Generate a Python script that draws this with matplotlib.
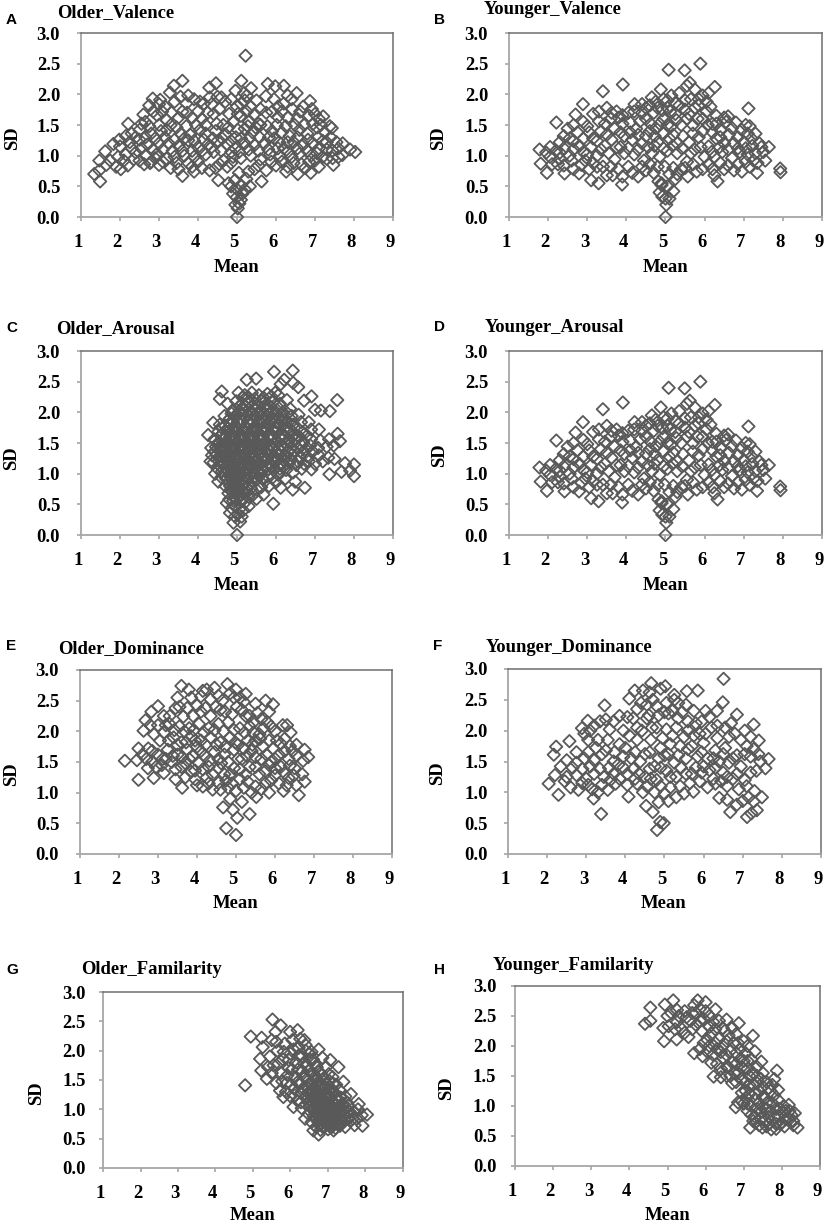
import numpy as np
import matplotlib
matplotlib.use('Agg')
import matplotlib.pyplot as plt
from matplotlib.transforms import ScaledTranslation

W, H = 829, 1224
GRAY = '#595959'

# mean, sd pairs
older_valence = [
    5.22,2.63, 3.60,2.22, 3.38,2.14, 4.46,2.18, 4.29,2.11, 5.11,2.22, 4.96,2.06, 5.18,2.02, 5.36,2.10, 5.79,2.17,
    5.98,2.13, 6.20,2.14, 6.53,2.02, 5.74,1.97, 6.87,1.89, 7.21,1.64, 7.43,1.45, 8.03,1.06, 7.90,1.10, 7.70,1.01,
    7.71,1.20, 7.47,0.85, 6.89,0.72, 6.56,0.70, 6.26,0.74, 5.63,0.58, 5.29,0.74, 4.52,0.60, 3.60,0.67, 3.90,0.74,
    2.77,0.88, 2.02,0.78, 1.49,0.58, 1.34,0.70, 1.47,0.76, 1.47,0.92, 1.62,1.07, 1.83,1.19, 1.98,1.26, 2.21,1.52,
    2.60,1.67, 2.84,1.93, 3.03,1.91, 3.28,2.03,
    5.00,0.00, 5.02,0.14, 5.06,0.22, 4.96,0.20, 4.99,0.32, 5.10,0.28, 4.90,0.38, 5.14,0.38, 5.20,0.45, 4.85,0.50,
    5.00,0.45, 5.10,0.52, 5.24,0.62, 4.95,0.60, 4.78,0.55, 5.05,0.72, 5.33,0.50,
    1.90,0.82, 2.20,0.84, 2.50,0.92, 2.80,0.90, 3.00,0.85, 3.30,0.80, 3.50,0.78, 3.75,0.88, 4.10,0.80, 4.30,0.76,
    4.45,0.80, 4.75,0.82, 5.45,0.78, 5.75,0.76, 6.00,0.84, 6.30,0.82, 6.65,0.86, 6.85,0.90, 7.10,0.82, 7.30,0.95,
    7.60,0.98, 1.75,0.92, 1.95,0.98, 2.15,1.02, 2.40,1.05, 2.65,1.00, 2.95,1.03, 3.20,0.95, 3.40,0.98, 3.65,1.00,
    3.90,0.98, 4.20,1.02, 4.40,1.06, 4.65,0.92, 4.90,0.98, 5.10,0.96, 5.35,1.00, 5.60,0.94, 5.85,1.02, 6.10,1.00,
    6.40,0.98, 6.60,1.03, 6.90,1.00, 7.05,1.04, 7.30,1.10, 7.45,1.08, 2.00,1.15, 2.25,1.22, 2.50,1.26, 2.70,1.18,
    3.00,1.20, 3.25,1.20, 3.50,1.16, 3.75,1.25, 4.00,1.14, 4.25,1.18, 4.50,1.24, 4.75,1.18, 4.95,1.12, 5.20,1.20,
    5.45,1.17, 5.70,1.20, 5.95,1.28, 6.20,1.12, 6.45,1.22, 6.70,1.18, 6.95,1.20, 7.20,1.24, 7.40,1.30, 7.55,1.22,
    2.30,1.36, 2.50,1.42, 2.80,1.36, 3.05,1.40, 3.30,1.50, 3.55,1.36, 3.80,1.34, 4.05,1.42, 4.20,1.36, 4.45,1.40,
    4.70,1.35, 4.97,1.30, 5.20,1.44, 5.40,1.38, 5.60,1.50, 5.90,1.40, 6.15,1.38, 6.35,1.32, 6.60,1.42, 6.80,1.36,
    7.05,1.46, 7.25,1.38, 2.65,1.55, 2.95,1.66, 3.20,1.58, 3.60,1.72, 3.85,1.62, 4.10,1.60, 4.40,1.68, 4.65,1.50,
    4.90,1.55, 5.10,1.65, 5.30,1.55, 5.55,1.52, 5.75,1.70, 6.05,1.63, 6.30,1.62, 6.55,1.60, 6.85,1.65, 7.00,1.68,
    2.75,1.82, 3.15,1.80, 3.40,1.88, 3.70,1.85, 3.90,1.92, 4.15,1.85, 4.35,1.84, 4.50,1.96, 4.70,1.88, 5.00,1.80,
    5.20,1.90, 5.35,1.80, 5.60,1.76, 6.05,1.80, 6.20,1.85, 6.40,1.92, 6.70,1.80,
    # denser fill
    1.65,0.85, 2.10,0.92, 2.35,0.94, 2.62,0.86, 2.90,0.96, 3.10,0.90, 3.45,0.88, 3.85,0.82, 4.00,0.90, 4.55,0.86,
    4.85,0.88, 5.55,0.84, 5.88,0.90, 6.15,0.90, 6.45,0.88, 6.75,0.80, 7.00,0.92, 7.20,0.98, 7.45,0.96, 2.30,1.12,
    2.55,1.12, 2.85,1.10, 3.10,1.10, 3.35,1.08, 3.60,1.08, 3.85,1.08, 4.10,1.08, 4.35,1.14, 4.60,1.08, 4.85,1.06,
    5.05,1.06, 5.30,1.10, 5.55,1.08, 5.80,1.10, 6.05,1.12, 6.30,1.06, 6.55,1.12, 6.80,1.08, 7.10,1.12, 7.60,1.12,
    2.15,1.32, 2.40,1.30, 2.65,1.30, 2.90,1.28, 3.15,1.30, 3.40,1.26, 3.65,1.28, 3.90,1.24, 4.15,1.26, 4.38,1.28,
    4.62,1.28, 4.85,1.24, 5.10,1.28, 5.32,1.28, 5.58,1.30, 5.82,1.30, 6.08,1.22, 6.30,1.22, 6.55,1.30, 6.82,1.26,
    7.08,1.30, 7.30,1.22, 2.55,1.52, 2.75,1.48, 3.00,1.50, 3.20,1.42, 3.45,1.46, 3.70,1.48, 3.95,1.50, 4.20,1.50,
    4.48,1.52, 4.78,1.46, 5.02,1.42, 5.28,1.48, 5.48,1.46, 5.78,1.48, 6.02,1.50, 6.25,1.48, 6.48,1.50, 6.72,1.50,
    6.95,1.52, 7.15,1.50, 7.38,1.48, 2.85,1.72, 3.08,1.72, 3.32,1.70, 3.50,1.62, 3.72,1.70, 4.00,1.72, 4.25,1.70,
    4.55,1.76, 4.80,1.68, 5.02,1.68, 5.25,1.72, 5.45,1.68, 5.90,1.72, 6.15,1.72, 6.42,1.76, 6.62,1.72, 6.92,1.76,
    7.10,1.60, 3.00,1.84, 3.55,1.96, 3.75,1.98, 4.05,1.88, 4.30,1.95, 4.60,1.95, 4.85,1.92, 5.10,1.85, 5.25,1.98,
    5.50,1.90, 5.95,1.92, 6.30,1.98,
]

younger_valence = [
    1.78,1.10, 1.81,0.87, 1.97,0.72, 2.21,1.54, 2.89,1.84, 2.70,1.67, 3.40,2.05, 3.91,2.16, 5.08,2.40, 5.49,2.39,
    5.89,2.50, 6.26,2.12, 4.88,2.08, 5.62,2.19, 7.12,1.77, 6.60,1.64, 7.64,1.14, 7.55,0.92, 7.93,0.79, 7.94,0.73,
    7.34,0.72, 6.33,0.58, 5.57,0.66, 3.89,0.53, 3.29,0.55, 3.10,0.60, 4.90,0.55, 2.42,0.71, 2.79,0.71, 4.21,1.84,
    5.00,0.00, 5.02,0.20, 5.00,0.30, 4.92,0.33, 5.10,0.30, 4.85,0.40, 5.20,0.42, 4.90,0.52, 5.05,0.50, 5.25,0.62,
    4.82,0.58, 5.10,0.70, 4.98,0.82,
    2.05,0.98, 1.95,1.05, 2.25,0.86, 2.40,0.84, 2.60,0.92, 2.85,0.85, 3.05,0.78, 3.25,0.82, 3.50,0.68, 3.65,0.68,
    3.80,0.78, 4.05,0.82, 4.30,0.66, 4.50,0.76, 4.70,0.72, 5.20,0.80, 5.40,0.78, 5.80,0.74, 6.10,0.86, 6.25,0.68,
    6.50,0.78, 6.75,0.76, 6.95,0.74, 7.15,0.82, 7.35,0.88, 2.20,1.08, 2.40,1.12, 2.55,1.00, 2.80,1.16, 3.00,1.02,
    3.25,1.00, 3.45,1.16, 3.70,0.94, 3.95,1.04, 4.20,1.02, 4.45,0.92, 4.65,1.04, 4.85,0.98, 5.05,1.08, 5.30,1.04,
    5.55,0.90, 5.75,1.10, 6.00,0.98, 6.25,0.98, 6.45,1.06, 6.70,0.96, 6.90,1.06, 7.10,1.02, 7.30,1.04, 7.50,1.06,
    2.30,1.22, 2.55,1.28, 2.75,1.38, 3.05,1.38, 3.25,1.24, 3.50,1.34, 3.75,1.14, 3.95,1.32, 4.15,1.26, 4.40,1.20,
    4.60,1.40, 4.80,1.22, 5.10,1.28, 5.30,1.20, 5.60,1.22, 5.85,1.30, 6.10,1.15, 6.30,1.28, 6.50,1.20, 6.75,1.20,
    7.00,1.22, 7.20,1.28, 7.40,1.20, 2.50,1.44, 2.90,1.55, 3.15,1.68, 3.45,1.52, 3.70,1.44, 3.90,1.52, 4.25,1.44,
    4.50,1.60, 4.75,1.45, 4.95,1.60, 5.15,1.48, 5.40,1.50, 5.70,1.50, 5.95,1.60, 6.20,1.52, 6.40,1.42, 6.70,1.45,
    6.95,1.42, 7.15,1.48, 7.30,1.36, 3.50,1.78, 3.75,1.72, 4.05,1.70, 4.40,1.70, 4.60,1.82, 4.80,1.78, 5.05,1.78,
    5.25,1.68, 5.50,1.75, 5.75,1.78, 6.05,1.72, 6.30,1.65, 6.50,1.62, 4.65,1.95, 4.95,1.92, 5.15,1.98, 5.35,2.02,
    5.55,2.14, 5.75,2.08, 5.50,1.90, 5.85,1.92, 6.10,2.02, 6.05,1.88,
    # denser fill
    2.10,0.86, 2.30,0.95, 2.65,0.78, 2.95,0.92, 3.15,0.88, 3.40,0.82, 3.60,0.82, 3.90,0.66, 4.15,0.72, 4.40,0.82,
    4.60,0.86, 4.80,0.82, 5.30,0.70, 5.50,0.80, 5.70,0.86, 5.95,0.78, 6.20,0.78, 6.40,0.88, 6.60,0.84, 6.85,0.86,
    7.05,0.90, 7.25,0.92, 2.05,1.14, 2.30,1.05, 2.65,1.10, 2.90,1.06, 3.10,1.14, 3.35,1.10, 3.55,1.04, 3.85,1.14,
    4.05,1.12, 4.30,1.10, 4.55,1.14, 4.72,1.16, 4.95,1.12, 5.18,1.16, 5.42,1.12, 5.65,1.04, 5.90,1.14, 6.18,1.06,
    6.38,1.14, 6.60,1.10, 6.85,1.12, 7.05,1.12, 7.22,1.16, 7.45,1.14, 2.40,1.32, 2.65,1.24, 2.90,1.28, 3.15,1.28,
    3.35,1.40, 3.62,1.26, 3.85,1.38, 4.10,1.38, 4.30,1.34, 4.50,1.32, 4.72,1.32, 4.95,1.36, 5.20,1.34, 5.45,1.32,
    5.70,1.36, 5.95,1.40, 6.20,1.38, 6.40,1.30, 6.62,1.34, 6.85,1.30, 7.10,1.36, 2.65,1.50, 3.00,1.48, 3.30,1.56,
    3.60,1.60, 3.80,1.62, 4.10,1.54, 4.35,1.56, 4.62,1.52, 4.85,1.52, 5.05,1.50, 5.28,1.58, 5.55,1.60, 5.82,1.60,
    6.08,1.50, 6.30,1.52, 6.55,1.55, 6.80,1.54, 7.05,1.50, 3.30,1.72, 3.62,1.70, 3.90,1.66, 4.20,1.72, 4.50,1.78,
    4.70,1.70, 4.92,1.74, 5.12,1.72, 5.35,1.82, 5.60,1.68, 5.85,1.82, 6.15,1.80, 4.40,1.84, 4.75,1.88, 5.05,1.90,
    5.25,1.86, 5.65,1.92, 5.95,1.98,
]

older_arousal = [
    4.26,1.63, 4.39,1.83, 4.61,2.34, 4.56,2.22, 5.25,2.53, 5.49,2.55, 5.95,2.66, 6.43,2.68, 6.21,2.53, 6.44,2.48,
    6.57,2.41, 6.91,2.26, 6.72,2.19, 7.57,2.20, 7.38,2.02, 7.15,2.03, 7.00,2.04, 7.58,1.65, 7.64,1.53, 7.50,1.24,
    7.77,1.17, 8.00,1.15, 7.90,1.05, 8.00,0.96, 7.68,1.03, 7.37,0.99, 6.91,1.07, 6.74,0.77, 6.43,0.74, 6.49,0.87,
    6.12,0.77, 5.93,0.51, 5.68,0.66, 5.50,0.59, 5.30,0.47, 5.00,0.00, 4.91,0.20, 5.08,0.22, 4.82,0.36, 4.74,0.52,
    4.52,0.87, 4.44,1.00, 4.32,1.20,
    4.95,0.30, 5.02,0.34, 5.12,0.30, 4.86,0.44, 4.96,0.46, 5.06,0.42, 5.16,0.40, 4.80,0.58, 4.90,0.56, 5.00,0.58,
    5.10,0.54, 5.22,0.54, 4.78,0.68, 4.88,0.70, 4.98,0.68, 5.08,0.66, 5.18,0.68, 5.30,0.62, 5.42,0.66, 4.70,0.80,
    4.82,0.80, 4.92,0.82, 5.02,0.78, 5.12,0.80, 5.24,0.78, 5.36,0.76, 5.50,0.74, 5.62,0.78, 5.82,0.80, 6.00,0.86,
    4.60,0.94, 4.72,0.92, 4.84,0.94, 4.94,0.90, 5.04,0.94, 5.14,0.90, 5.26,0.92, 5.38,0.88, 5.50,0.90, 5.64,0.92,
    5.78,0.96, 5.92,0.94, 6.06,0.98, 6.24,0.92, 4.50,1.08, 4.62,1.04, 4.74,1.06, 4.86,1.04, 4.96,1.06, 5.06,1.02,
    5.18,1.04, 5.30,1.06, 5.42,1.02, 5.54,1.04, 5.66,1.06, 5.80,1.08, 5.94,1.06, 6.10,1.08, 6.26,1.06, 6.44,1.02,
    6.66,1.08, 4.40,1.18, 4.54,1.20, 4.66,1.16, 4.78,1.18, 4.90,1.16, 5.00,1.20, 5.12,1.16, 5.24,1.18, 5.36,1.16,
    5.48,1.20, 5.60,1.16, 5.72,1.20, 5.86,1.16, 6.00,1.20, 6.16,1.16, 6.34,1.18, 6.52,1.14, 6.72,1.16, 7.00,1.16,
    7.20,1.20, 4.36,1.30, 4.48,1.32, 4.60,1.28, 4.72,1.32, 4.84,1.28, 4.96,1.30, 5.08,1.28, 5.20,1.32, 5.32,1.28,
    5.44,1.30, 5.56,1.32, 5.68,1.28, 5.80,1.32, 5.94,1.28, 6.08,1.30, 6.24,1.28, 6.40,1.30, 6.60,1.26, 6.80,1.28,
    7.10,1.30, 7.34,1.26, 4.34,1.42, 4.46,1.44, 4.58,1.40, 4.70,1.44, 4.82,1.40, 4.94,1.44, 5.06,1.40, 5.18,1.44,
    5.30,1.40, 5.42,1.44, 5.54,1.40, 5.66,1.44, 5.78,1.40, 5.92,1.44, 6.06,1.40, 6.20,1.44, 6.38,1.40, 6.56,1.42,
    6.76,1.40, 7.08,1.42, 7.30,1.44, 7.48,1.46, 4.42,1.56, 4.54,1.52, 4.66,1.56, 4.78,1.52, 4.90,1.56, 5.02,1.52,
    5.14,1.56, 5.26,1.52, 5.38,1.56, 5.50,1.52, 5.62,1.56, 5.74,1.52, 5.88,1.56, 6.02,1.52, 6.16,1.56, 6.32,1.52,
    6.50,1.56, 6.70,1.52, 6.90,1.56, 7.14,1.54, 7.36,1.56, 4.52,1.68, 4.64,1.66, 4.76,1.68, 4.88,1.64, 5.00,1.68,
    5.12,1.64, 5.24,1.68, 5.36,1.64, 5.48,1.68, 5.60,1.64, 5.72,1.68, 5.86,1.64, 6.00,1.68, 6.14,1.64, 6.30,1.68,
    6.48,1.64, 6.68,1.68, 6.90,1.72, 7.10,1.72, 4.56,1.80, 4.70,1.78, 4.84,1.80, 4.96,1.76, 5.08,1.80, 5.20,1.76,
    5.32,1.80, 5.44,1.76, 5.56,1.80, 5.68,1.76, 5.82,1.80, 5.96,1.76, 6.10,1.80, 6.26,1.76, 6.44,1.80, 6.64,1.84,
    6.84,1.84, 4.68,1.94, 4.82,1.90, 4.96,1.92, 5.08,1.88, 5.22,1.92, 5.36,1.88, 5.50,1.92, 5.64,1.88, 5.78,1.92,
    5.92,1.88, 6.06,1.92, 6.22,1.88, 6.40,1.94, 6.58,1.96, 4.90,2.04, 5.04,2.00, 5.18,2.04, 5.32,2.00, 5.46,2.04,
    5.60,2.00, 5.74,2.04, 5.88,2.00, 6.02,2.04, 6.18,2.00, 6.36,2.06, 4.76,2.14, 4.98,2.18, 5.14,2.14, 5.30,2.18,
    5.46,2.14, 5.62,2.18, 5.78,2.14, 5.94,2.18, 6.10,2.14, 6.28,2.20, 5.04,2.32, 5.20,2.28, 5.38,2.32, 5.56,2.28,
    5.78,2.30, 5.98,2.32, 6.12,2.46,
    # denser fill, offset from the rows above
    4.94,0.62, 5.04,0.62, 5.14,0.60, 4.84,0.74, 4.94,0.74, 5.04,0.72, 5.14,0.72, 5.26,0.70, 4.78,0.86, 4.88,0.86,
    4.98,0.84, 5.08,0.86, 5.20,0.84, 5.32,0.82, 4.68,0.98, 4.80,0.98, 4.90,0.98, 5.00,0.98, 5.10,0.96, 5.22,0.98,
    5.34,0.96, 5.46,0.96, 5.60,0.98, 5.72,0.88, 4.58,1.12, 4.70,1.10, 4.82,1.10, 4.92,1.10, 5.02,1.12, 5.14,1.10,
    5.26,1.10, 5.38,1.10, 5.50,1.10, 5.62,1.10, 5.76,1.12, 5.90,1.12, 6.04,1.12, 6.20,1.12, 4.48,1.24, 4.60,1.22,
    4.72,1.24, 4.84,1.22, 4.94,1.24, 5.06,1.22, 5.18,1.24, 5.30,1.22, 5.42,1.24, 5.54,1.22, 5.66,1.24, 5.78,1.24,
    5.90,1.22, 6.04,1.24, 6.20,1.22, 6.38,1.24, 6.56,1.20, 6.84,1.20, 4.42,1.36, 4.54,1.38, 4.66,1.36, 4.78,1.36,
    4.90,1.36, 5.02,1.34, 5.14,1.36, 5.26,1.36, 5.38,1.36, 5.50,1.36, 5.62,1.36, 5.74,1.36, 5.86,1.36, 6.00,1.36,
    6.14,1.36, 6.30,1.36, 6.48,1.36, 6.68,1.34, 6.94,1.36, 4.50,1.48, 4.62,1.46, 4.74,1.48, 4.86,1.46, 4.98,1.48,
    5.10,1.46, 5.22,1.48, 5.34,1.46, 5.46,1.48, 5.58,1.46, 5.70,1.48, 5.84,1.46, 5.98,1.48, 6.12,1.46, 6.28,1.48,
    6.46,1.48, 6.66,1.46, 6.88,1.46, 4.58,1.62, 4.70,1.60, 4.82,1.60, 4.94,1.60, 5.06,1.60, 5.18,1.60, 5.30,1.60,
    5.42,1.60, 5.54,1.60, 5.66,1.60, 5.80,1.60, 5.94,1.60, 6.08,1.60, 6.24,1.60, 6.40,1.60, 6.60,1.60, 6.80,1.62,
    4.62,1.74, 4.76,1.74, 4.90,1.70, 5.02,1.74, 5.14,1.72, 5.26,1.74, 5.38,1.72, 5.50,1.74, 5.62,1.72, 5.76,1.74,
    5.90,1.72, 6.04,1.74, 6.20,1.72, 6.38,1.72, 6.56,1.74, 4.76,1.86, 4.90,1.84, 5.02,1.84, 5.14,1.86, 5.28,1.84,
    5.42,1.84, 5.56,1.86, 5.70,1.84, 5.84,1.86, 6.00,1.84, 6.14,1.86, 6.32,1.84, 4.86,1.98, 5.00,1.96, 5.14,1.98,
    5.28,1.96, 5.42,1.98, 5.56,1.96, 5.70,1.98, 5.84,1.96, 5.98,1.98, 6.14,1.96, 6.30,1.98, 5.06,2.10, 5.22,2.10,
    5.38,2.10, 5.54,2.08, 5.70,2.10, 5.86,2.08, 6.02,2.10, 5.14,2.24, 5.30,2.24, 5.46,2.22, 5.68,2.24, 5.88,2.26,
    6.06,2.28,
]

# the Younger_Arousal panel shows the same cloud as Younger_Valence
younger_arousal = list(younger_valence)

older_dominance = [
    2.15,1.52, 2.50,1.21, 2.46,1.53, 2.63,2.01, 2.68,2.18, 2.83,2.32, 3.00,2.41, 3.60,2.74, 3.79,2.68, 4.15,2.66,
    4.45,2.71, 4.78,2.77, 5.25,2.61, 5.76,2.50, 5.95,2.44, 6.31,2.10, 6.55,1.78, 6.76,1.70, 6.85,1.58, 6.76,1.18,
    6.61,0.96, 6.22,1.03, 5.85,1.00, 5.52,0.93, 5.35,0.65, 5.03,0.59, 5.00,0.31, 4.75,0.42, 4.67,0.76, 4.92,0.72,
    3.62,1.08, 3.15,1.32, 2.89,1.24, 2.74,1.40,
    2.60,1.62, 2.85,1.50, 3.10,1.45, 3.35,1.50, 3.45,1.22, 3.85,1.34, 4.00,1.12, 4.25,1.25, 4.40,1.05, 4.55,1.16,
    4.80,1.08, 5.00,1.03, 5.20,1.08, 5.40,1.00, 5.65,1.06, 5.90,1.20, 6.10,1.15, 6.35,1.24, 6.55,1.12, 4.85,0.90,
    5.15,0.85, 4.70,1.30, 4.95,1.40, 5.25,1.30, 5.50,1.42, 5.75,1.35, 6.00,1.40, 6.25,1.32, 6.50,1.40, 6.70,1.30,
    3.60,1.42, 3.80,1.55, 4.05,1.48, 4.30,1.42, 4.55,1.40, 2.75,1.72, 3.00,1.62, 3.25,1.70, 3.50,1.62, 3.75,1.70,
    4.00,1.75, 4.20,1.60, 4.45,1.66, 4.70,1.62, 4.95,1.70, 5.15,1.55, 5.40,1.68, 5.65,1.55, 5.90,1.50, 6.10,1.62,
    6.35,1.55, 6.55,1.60, 6.72,1.52, 2.90,1.95, 3.15,1.98, 3.40,1.90, 3.60,1.82, 3.85,1.92, 4.10,1.85, 4.35,1.90,
    4.60,1.82, 4.85,1.90, 5.05,1.78, 5.30,1.85, 5.50,1.85, 5.70,1.75, 5.95,1.72, 6.15,1.80, 6.38,1.76, 3.00,2.10,
    3.30,2.25, 3.55,2.08, 3.80,2.05, 4.05,2.12, 4.30,2.05, 4.55,2.12, 4.80,2.15, 5.10,2.05, 5.35,2.08, 5.60,1.95,
    5.80,2.15, 6.00,2.00, 6.20,2.10, 6.40,1.98, 3.15,2.25, 3.45,2.38, 3.65,2.24, 3.90,2.25, 4.10,2.32, 4.35,2.25,
    4.60,2.35, 4.90,2.28, 5.15,2.35, 5.35,2.25, 5.55,2.30, 5.85,2.32, 3.50,2.55, 3.85,2.55, 4.10,2.57, 4.35,2.52,
    4.65,2.50, 4.95,2.55, 5.00,2.68, 5.20,2.48, 5.50,2.45,
    # denser fill
    2.50,1.72, 2.70,1.55, 2.95,1.42, 3.20,1.55, 3.45,1.38, 3.70,1.25, 3.95,1.22, 4.15,1.10, 4.30,1.15, 4.60,1.05,
    4.75,1.20, 4.90,1.15, 5.10,1.22, 5.30,1.18, 5.50,1.10, 5.75,1.15, 6.00,1.28, 6.30,1.12, 6.48,1.28, 3.70,1.48,
    3.95,1.36, 4.15,1.38, 4.40,1.30, 4.62,1.48, 4.85,1.30, 5.10,1.38, 5.35,1.42, 5.60,1.30, 5.85,1.45, 6.15,1.42,
    6.38,1.44, 2.85,1.68, 3.12,1.55, 3.38,1.60, 3.62,1.58, 3.88,1.60, 4.10,1.68, 4.32,1.52, 4.55,1.55, 4.80,1.50,
    5.05,1.55, 5.28,1.60, 5.50,1.58, 5.78,1.62, 6.00,1.55, 6.25,1.68, 6.45,1.68, 3.05,1.85, 3.28,1.85, 3.50,1.78,
    3.72,1.82, 3.95,1.85, 4.22,1.78, 4.50,1.78, 4.72,1.75, 4.98,1.82, 5.20,1.72, 5.42,1.78, 5.62,1.88, 5.85,1.85,
    6.05,1.85, 6.25,1.88, 2.80,2.10, 3.20,2.10, 3.42,2.02, 3.68,2.00, 3.92,2.02, 4.18,1.98, 4.45,2.02, 4.68,2.00,
    4.95,2.02, 5.22,1.98, 5.45,1.98, 5.70,2.05, 5.90,2.08, 3.55,2.40, 3.75,2.38, 4.00,2.42, 4.22,2.38, 4.48,2.40,
    4.72,2.32, 5.02,2.40, 5.25,2.25, 5.45,2.15, 5.65,2.20, 3.30,2.12, 4.25,2.68, 4.55,2.58, 4.85,2.62, 5.10,2.55,
]

younger_dominance = [
    2.04,1.14, 2.17,1.61, 2.23,1.74, 2.57,1.83, 2.29,0.96, 2.89,2.04, 3.04,2.16, 3.47,2.41, 3.38,0.65, 3.19,0.90,
    4.24,2.65, 4.66,2.77, 5.02,2.72, 5.57,2.64, 5.85,2.65, 6.51,2.84, 6.49,2.46, 6.34,2.32, 6.85,2.26, 7.28,2.10,
    7.41,1.84, 7.66,1.54, 7.58,1.39, 7.49,0.92, 7.36,0.71, 7.22,0.66, 7.11,0.60, 6.68,0.68, 6.40,0.91, 5.74,1.01,
    4.81,0.39, 4.89,0.52, 4.98,0.50, 4.70,0.68, 4.53,0.78, 4.08,0.93,
    2.20,1.28, 2.35,1.42, 2.50,1.52, 2.45,1.18, 2.60,1.08, 2.80,1.04, 3.05,1.12, 3.30,1.00, 3.55,1.04, 3.75,1.14,
    4.30,1.14, 4.45,1.00, 4.85,0.84, 4.75,1.00, 5.00,0.98, 5.10,0.86, 5.30,0.92, 5.50,0.98, 5.90,1.18, 6.10,1.08,
    6.30,1.14, 6.60,0.88, 6.85,0.80, 7.00,0.86, 7.15,0.92, 7.30,1.02, 2.75,1.28, 3.00,1.22, 3.20,1.30, 3.45,1.25,
    3.70,1.30, 3.95,1.40, 4.20,1.38, 4.50,1.25, 4.80,1.20, 5.05,1.35, 5.30,1.25, 5.55,1.30, 5.80,1.40, 6.15,1.36,
    6.50,1.32, 6.75,1.22, 7.05,1.20, 7.35,1.35, 2.75,1.48, 2.95,1.55, 3.20,1.52, 3.40,1.62, 3.70,1.50, 3.95,1.58,
    4.25,1.65, 4.50,1.62, 4.75,1.42, 5.00,1.60, 5.25,1.48, 5.55,1.55, 5.85,1.58, 6.10,1.55, 6.40,1.50, 6.65,1.48,
    6.95,1.42, 7.20,1.58, 7.40,1.62, 2.75,1.65, 3.05,1.85, 3.25,1.72, 3.55,1.85, 3.85,1.78, 4.10,1.92, 4.30,1.85,
    4.65,1.85, 4.90,1.72, 5.15,1.78, 5.40,1.75, 5.70,1.75, 6.00,1.80, 6.30,1.68, 6.55,1.72, 6.85,1.60, 7.10,1.75,
    3.10,2.00, 3.35,2.15, 3.60,2.02, 3.85,2.24, 4.05,2.22, 4.30,2.05, 4.55,2.20, 4.80,2.05, 5.05,2.02, 5.30,2.05,
    5.60,2.00, 5.90,1.95, 6.20,2.05, 6.55,2.05, 6.80,1.95, 7.05,2.00, 4.10,2.52, 4.40,2.45, 4.60,2.25, 4.70,2.50,
    4.85,2.25, 5.05,2.45, 5.25,2.50, 5.10,2.28, 5.35,2.20, 5.55,2.42, 5.75,2.32, 5.80,2.12, 6.05,2.32, 4.90,2.68,
    5.25,2.58,
    # denser fill
    2.50,1.25, 2.65,1.40, 2.90,1.15, 3.15,1.05, 3.40,1.12, 3.62,1.20, 3.85,1.22, 4.05,1.12, 4.25,1.22, 4.55,1.10,
    4.65,1.22, 4.90,1.10, 5.15,1.08, 5.40,1.10, 5.65,1.15, 5.95,1.32, 6.25,1.22, 6.45,1.18, 6.60,1.10, 6.90,1.05,
    7.10,1.10, 7.28,0.85, 2.90,1.38, 3.10,1.42, 3.35,1.38, 3.58,1.40, 3.82,1.45, 4.05,1.30, 4.35,1.30, 4.62,1.38,
    4.90,1.40, 5.15,1.25, 5.42,1.40, 5.70,1.30, 6.00,1.42, 6.30,1.40, 6.60,1.25, 6.85,1.30, 7.20,1.32, 7.45,1.50,
    3.05,1.65, 3.30,1.85, 3.50,1.68, 3.72,1.65, 4.00,1.72, 4.15,1.55, 4.38,1.50, 4.62,1.65, 4.85,1.55, 5.10,1.62,
    5.35,1.60, 5.60,1.70, 5.95,1.65, 6.25,1.55, 6.50,1.62, 6.75,1.55, 7.05,1.62, 7.28,1.70, 2.95,1.95, 3.20,2.08,
    3.50,2.18, 3.70,2.15, 3.95,2.00, 4.20,2.20, 4.42,2.00, 4.68,2.05, 4.95,1.88, 5.20,1.92, 5.50,1.90, 5.75,1.92,
    6.05,1.95, 6.35,1.88, 6.65,1.90, 6.95,1.85, 7.20,1.90, 4.30,2.35, 4.55,2.42, 4.45,2.65, 4.62,2.62, 4.80,2.40,
    5.00,2.30, 5.20,2.32, 5.45,2.30, 5.60,2.15, 5.95,2.15, 6.15,2.22, 6.35,2.08, 6.70,2.12, 5.35,2.45,
]

older_familiarity = [
    4.79,1.41, 4.94,2.24, 5.52,2.53, 5.74,2.43, 5.23,2.22, 5.26,2.06, 5.19,1.86, 5.22,1.66, 5.37,1.52, 5.60,2.32,
    6.19,2.35, 5.99,2.32, 6.37,2.18, 6.75,2.02, 7.06,1.84, 7.28,1.72, 7.41,1.47, 7.61,1.26, 7.82,1.09, 8.04,0.91,
    7.92,0.72, 7.71,0.73, 7.46,0.70, 7.15,0.64, 6.75,0.57, 6.61,0.64, 6.39,0.84, 6.08,1.04, 5.81,1.21,
    5.45,1.90, 5.55,1.75, 5.65,2.00, 5.50,1.62, 5.62,1.45, 5.75,1.62, 5.80,1.85, 5.85,2.12, 5.72,1.32, 5.90,1.45,
    5.95,1.70, 6.00,1.95, 6.05,2.18, 6.00,1.22, 6.10,1.35, 6.12,1.55, 6.15,1.80, 6.22,2.05, 6.18,1.15, 6.28,1.28,
    6.25,1.45, 6.32,1.65, 6.30,1.90, 6.40,2.10, 6.30,1.02, 6.42,1.08, 6.40,1.20, 6.42,1.38, 6.40,1.55, 6.45,1.75,
    6.50,1.95, 6.48,0.92, 6.52,1.04, 6.52,1.15, 6.54,1.28, 6.52,1.45, 6.56,1.62, 6.60,1.85, 6.56,0.78, 6.62,0.88,
    6.62,1.00, 6.62,1.10, 6.64,1.22, 6.64,1.35, 6.66,1.52, 6.70,1.72, 6.68,0.70, 6.72,0.80, 6.72,0.92, 6.72,1.02,
    6.74,1.14, 6.74,1.28, 6.76,1.42, 6.80,1.62, 6.85,1.88, 6.80,0.65, 6.82,0.76, 6.82,0.86, 6.82,0.96, 6.84,1.08,
    6.84,1.20, 6.86,1.34, 6.90,1.52, 6.95,1.72, 6.90,0.70, 6.92,0.80, 6.92,0.90, 6.92,1.00, 6.94,1.12, 6.94,1.26,
    6.98,1.42, 7.02,1.60, 7.00,0.66, 7.02,0.76, 7.02,0.86, 7.02,0.96, 7.04,1.06, 7.06,1.20, 7.08,1.36, 7.12,1.55,
    7.10,0.70, 7.12,0.80, 7.12,0.90, 7.14,1.00, 7.16,1.12, 7.18,1.28, 7.22,1.42, 7.20,0.68, 7.22,0.78, 7.24,0.88,
    7.26,1.00, 7.28,1.14, 7.32,1.32, 7.32,0.72, 7.34,0.84, 7.38,0.96, 7.40,1.10, 7.46,1.22, 7.44,0.82, 7.50,0.94,
    7.55,1.06, 7.60,0.80, 7.68,0.96, 7.75,0.84, 7.90,0.90, 6.58,1.32, 6.68,1.42, 6.48,1.35, 6.58,1.12, 6.78,1.06,
    6.88,1.14, 6.98,0.92, 7.08,0.98, 6.88,0.94, 6.78,0.82, 6.98,1.04, 6.70,1.24,
    # denser fill
    5.40,1.72, 5.50,2.18, 5.62,2.15, 5.68,1.78, 5.78,1.48, 5.82,1.98, 5.88,1.30, 5.92,1.58, 5.96,1.84, 6.02,1.42,
    6.04,1.68, 6.08,2.02, 6.12,1.24, 6.18,1.46, 6.20,1.68, 6.22,1.92, 6.26,2.20, 6.28,1.12, 6.34,1.36, 6.36,1.56,
    6.36,1.78, 6.40,2.00, 6.46,1.28, 6.46,1.48, 6.48,1.66, 6.52,1.85, 6.56,1.98, 6.58,1.02, 6.58,1.22, 6.60,1.42,
    6.62,1.60, 6.64,1.78, 6.66,0.94, 6.68,1.06, 6.68,1.18, 6.70,1.32, 6.70,1.52, 6.74,1.65, 6.76,0.74, 6.78,0.88,
    6.78,0.98, 6.80,1.12, 6.80,1.26, 6.82,1.42, 6.84,1.58, 6.86,0.70, 6.88,0.82, 6.88,1.04, 6.90,1.22, 6.92,1.38,
    6.96,0.74, 6.96,0.86, 6.96,0.98, 6.98,1.10, 7.00,1.26, 7.04,1.48, 7.06,0.72, 7.06,0.82, 7.08,0.92, 7.08,1.04,
    7.10,1.14, 7.12,1.30, 7.14,1.44, 7.16,0.74, 7.18,0.84, 7.18,0.96, 7.20,1.06, 7.22,1.20, 7.26,0.74, 7.28,0.84,
    7.30,0.94, 7.32,1.06, 7.34,1.20, 7.38,0.78, 7.42,0.90, 7.46,1.02, 7.50,1.12, 7.52,0.84, 7.58,0.96, 7.66,0.84,
    7.72,0.94, 7.80,1.00, 7.00,1.16, 6.90,1.06, 6.76,1.20, 6.86,1.00, 6.66,0.86, 6.98,0.80, 7.14,0.86, 6.84,0.92,
]

younger_familiarity = [
    4.55,2.64, 4.41,2.37, 4.55,2.42, 4.93,2.69, 5.15,2.76, 4.91,2.08, 4.89,2.30, 5.03,2.33, 5.24,2.11, 5.79,2.76,
    6.00,2.73, 6.26,2.61, 6.55,2.44, 6.87,2.38, 7.24,2.17, 7.29,1.91, 7.46,1.74, 7.87,1.59, 7.90,1.27, 8.18,1.02,
    8.34,0.88, 8.41,0.64, 8.07,0.66, 7.72,0.61, 7.49,0.64, 7.17,0.64, 6.79,0.98, 6.21,1.49, 5.92,1.83, 5.70,1.88,
    5.10,2.55, 5.25,2.60, 5.25,2.40, 5.45,2.22, 5.50,2.48, 5.45,2.58, 5.70,2.68, 5.75,2.55, 5.75,2.35, 5.55,2.15,
    5.95,2.45, 5.90,2.25, 6.00,2.58, 6.20,2.40, 6.15,2.20, 5.95,2.05, 5.85,1.95, 6.05,1.90, 6.15,1.72, 6.30,1.95,
    6.35,2.12, 6.45,2.30, 6.60,2.18, 6.45,2.00, 6.30,1.70, 6.45,1.80, 6.55,1.50, 6.40,1.48, 6.70,1.72, 6.65,1.92,
    6.85,2.05, 6.80,2.20, 7.00,2.08, 7.05,1.88, 6.90,1.78, 6.85,1.55, 6.70,1.38, 7.00,1.62, 7.20,1.78, 7.25,1.55,
    7.05,1.40, 6.95,1.22, 6.85,1.06, 7.15,1.20, 7.25,1.35, 7.45,1.45, 7.60,1.40, 7.40,1.25, 7.70,1.25, 7.80,1.45,
    7.00,1.04, 7.20,1.00, 7.40,1.05, 7.55,1.12, 7.75,1.05, 7.90,1.10, 8.05,1.00, 7.20,0.85, 7.30,0.82, 7.45,0.90,
    7.60,0.95, 7.80,0.82, 8.00,0.90, 8.25,0.85, 7.30,0.72, 7.55,0.75, 7.65,0.70, 7.85,0.70, 8.10,0.78, 8.30,0.75,
    8.20,0.92, 7.10,0.92, 7.95,0.95, 7.95,0.70, 7.50,1.15, 7.15,1.50, 7.35,1.65, 6.60,1.65, 6.75,1.55,
    # denser fill
    5.30,2.50, 5.60,2.42, 5.65,2.55, 5.35,2.30, 5.65,2.28, 5.85,2.62, 5.85,2.42, 6.10,2.50, 6.10,2.32, 6.05,2.10,
    6.25,2.28, 6.35,2.42, 6.25,2.05, 6.10,2.00, 6.20,1.85, 6.40,1.90, 6.55,2.08, 6.50,2.25, 6.70,2.30, 6.75,2.05,
    6.55,1.85, 6.55,1.65, 6.40,1.62, 6.80,1.88, 6.90,1.95, 7.10,2.00, 7.10,1.75, 6.95,1.65, 6.80,1.70, 6.65,1.50,
    6.80,1.40, 6.95,1.45, 7.10,1.62, 7.35,1.50, 7.15,1.35, 7.30,1.20, 6.95,1.08, 7.08,1.14, 7.10,1.04, 7.50,1.32,
    7.65,1.30, 7.75,1.35, 7.30,1.12, 7.60,1.05, 7.50,0.98, 7.35,0.95, 7.70,0.92, 7.85,0.95, 8.10,0.92, 7.25,0.75,
    7.45,0.78, 7.65,0.82, 7.90,0.82, 8.20,0.78, 8.30,0.68, 7.35,1.38, 7.50,1.55, 7.05,1.25, 7.00,1.75, 7.40,0.68,
    7.60,0.66, 7.85,0.62, 8.00,0.72, 7.80,1.18, 5.00,2.50, 5.20,2.28,
]

panels = [older_valence, younger_valence, older_arousal, younger_arousal,
          older_dominance, younger_dominance, older_familiarity, younger_familiarity]
titles = ['Older_Valence', 'Younger_Valence', 'Older_Arousal', 'Younger_Arousal',
          'Older_Dominance', 'Younger_Dominance', 'Older_Familarity', 'Younger_Familarity']
letters = ['A', 'B', 'C', 'D', 'E', 'F', 'G', 'H']
x_ticks = [1, 2, 3, 4, 5, 6, 7, 8, 9]
y_ticks = [0.0, 0.5, 1.0, 1.5, 2.0, 2.5, 3.0]

# layout in pixels: left, right, top, bottom
axes_px = [(81, 393, 33, 217), (509, 822, 33, 217), (81, 393, 351, 535), (509, 822, 351, 535),
           (80, 392, 670, 854), (508, 821, 669, 854), (103, 403, 992, 1168), (515, 820, 986, 1166)]
title_px = [(57, 13), (484, 10), (56, 329), (485, 328), (58, 649), (486, 648), (81, 970), (493, 965)]
letter_px = [(6, 20), (434, 20), (6, 328), (434, 327), (6, 646), (433, 646), (6, 970), (434, 970)]
sd_px = [(13, 138), (439, 138), (12, 458), (440, 455), (12, 774), (438, 773), (37, 1093), (447, 1088)]
mean_px = [(237, 267), (666, 267), (237, 585), (666, 585), (236, 904), (664, 903), (253, 1216), (668, 1215)]
y_pad = [12, 12, 12, 12, 12, 11.5, 9.5, 10.5]

plt.rcParams['font.family'] = ['Liberation Serif', 'DejaVu Serif']
plt.rcParams['font.weight'] = 'bold'
plt.rcParams['font.size'] = 13.4

fig = plt.figure(figsize=(W / 100, H / 100), dpi=100)


def fx(px):
    return px / W


def fy(py):
    return 1 - py / H


for i, data in enumerate(panels):
    left, right, top, bottom = axes_px[i]
    ax = fig.add_axes([fx(left), fy(bottom), (right - left) / W, (bottom - top) / H])
    pts = np.array(data).reshape(-1, 2)
    ax.scatter(pts[:, 0], pts[:, 1], marker='D', s=40, facecolors='none',
               edgecolors=GRAY, linewidths=1.3, clip_on=False, zorder=3)
    ax.set_xlim(1, 9)
    ax.set_ylim(0, 3)
    ax.set_xticks(x_ticks)
    ax.set_yticks(y_ticks)
    ax.set_yticklabels(['%.1f' % v for v in y_ticks])
    ax.tick_params(axis='x', length=3, width=1.2, color='#a6a6a6', pad=9)
    ax.tick_params(axis='y', length=3, width=1.2, color='#a6a6a6', pad=y_pad[i])
    shift = ScaledTranslation(-2 / 72, 0, fig.dpi_scale_trans)
    for lab in ax.get_xticklabels():
        lab.set_transform(lab.get_transform() + shift)
    for side in ['left', 'bottom']:
        ax.spines[side].set_color('#a6a6a6')
        ax.spines[side].set_linewidth(1.3)
    for side in ['top', 'right']:
        ax.spines[side].set_color('#6e6e6e')
        ax.spines[side].set_linewidth(1.1)

    fig.text(fx(title_px[i][0]), fy(title_px[i][1]), titles[i], ha='left', va='center')
    fig.text(fx(letter_px[i][0]), fy(letter_px[i][1]), letters[i], ha='left', va='center',
             family=['Liberation Sans', 'DejaVu Sans'], fontsize=11, fontweight='bold')
    fig.text(fx(sd_px[i][0]), fy(sd_px[i][1]), 'SD', ha='center', va='center', rotation=90)
    fig.text(fx(mean_px[i][0]), fy(mean_px[i][1]), 'Mean', ha='center', va='center')

fig.savefig('out.png', dpi=100)
